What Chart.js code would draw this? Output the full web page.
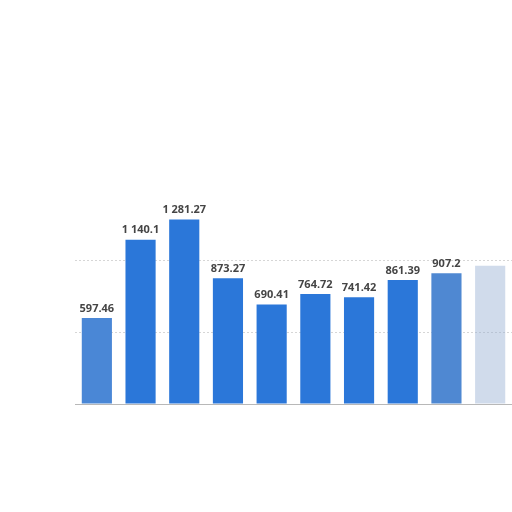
<!DOCTYPE html>
<html>
<head>
<meta charset="utf-8">
<script src="https://cdn.jsdelivr.net/npm/chart.js@4/dist/chart.umd.min.js"></script>
<style>
  html, body { margin: 0; padding: 0; background: #fff; }
  #wrap { width: 512px; height: 512px; }
</style>
</head>
<body>
<div id="wrap"><canvas id="chart"></canvas></div>
<script>
const categories = ["1", "2", "3", "4", "5", "6", "7", "8", "9", "10"];
const values = [597.46, 1140.1, 1281.27, 873.27, 690.41, 764.72, 741.42, 861.39, 907.2, 960];
const valueLabels = ["597.46", "1 140.1", "1 281.27", "873.27", "690.41", "764.72", "741.42", "861.39", "907.2", ""];
const barColors = ["#4a87d6", "#2b77d9", "#2b77d9", "#2b77d9", "#2b77d9", "#2b77d9", "#2b77d9", "#2b77d9", "#4f88d2", "rgba(150,175,210,0.45)"];

// value labels above each bar
const barLabels = {
    id: "barLabels",
    afterDatasetsDraw(chart) {
        const ctx = chart.ctx;
        const meta = chart.getDatasetMeta(0);
        ctx.save();
        ctx.font = "bold 11px 'Open Sans', sans-serif";
        ctx.fillStyle = "#454545";
        ctx.textAlign = "center";
        ctx.textBaseline = "bottom";
        meta.data.forEach((bar, i) => {
            if (!valueLabels[i]) return;
            ctx.fillText(valueLabels[i], bar.x, bar.y - 4);
        });
        ctx.restore();
    }
};

new Chart(document.getElementById("chart"), {
    type: "bar",
    data: {
        labels: categories,
        datasets: [{
            data: values,
            backgroundColor: barColors,
            borderWidth: 0,
            categoryPercentage: 1,
            barPercentage: 0.69
        }]
    },
    options: {
        responsive: true,
        maintainAspectRatio: false,
        animation: false,
        layout: { padding: { left: 75, right: 0, top: 188, bottom: 108 } },
        plugins: { legend: { display: false }, tooltip: { enabled: false } },
        scales: {
            x: {
                ticks: { display: false },
                grid: { display: false, drawTicks: false },
                border: { display: true, color: "#b8b8b8", width: 1 }
            },
            y: {
                min: 0,
                max: 1500,
                ticks: { display: false, stepSize: 500 },
                grid: {
                    drawTicks: false,
                    color: (c) => (c.tick && (c.tick.value === 500 || c.tick.value === 1000)) ? "#d6d6d6" : "rgba(0,0,0,0)"
                },
                border: { display: false, dash: [2, 2] }
            }
        }
    },
    plugins: [barLabels]
});
</script>
</body>
</html>
